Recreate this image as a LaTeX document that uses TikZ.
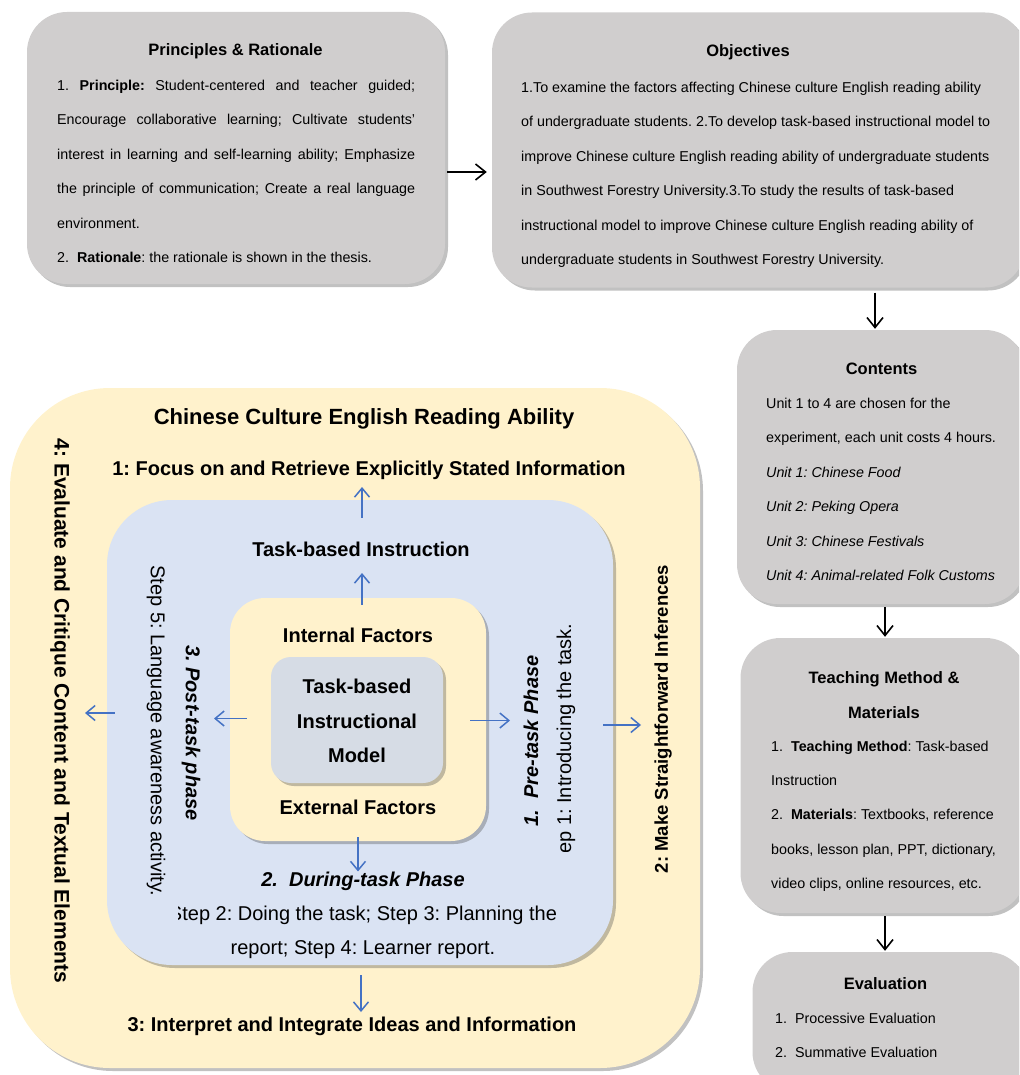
\documentclass[tikz,border=0pt]{standalone}
\usepackage{fontspec}
\setmainfont{Liberation Sans}
\usetikzlibrary{arrows.meta,shadows}
\definecolor{cardgray}{RGB}{208,206,206}
\definecolor{ylw}{RGB}{255,242,204}
\definecolor{blu}{RGB}{218,227,243}
\definecolor{cgray}{RGB}{214,220,229}
\definecolor{arrblue}{RGB}{68,114,196}
\newcommand{\fsz}[2]{\fontsize{#1}{#2}\selectfont}
\frenchspacing
\begin{document}
\frenchspacing
\begin{tikzpicture}[x=1pt,y=-1pt,
  shd/.style={drop shadow={shadow xshift=3pt,shadow yshift=-3pt,opacity=0.35,fill=black!70}},
  card/.style={fill=cardgray,rounded corners=40pt,inner sep=0pt,shd},
  panel/.style={inner sep=0pt,shd},
  ttl/.style={font=\bfseries\fsz{16.5}{20},inner sep=0pt},
  body/.style={font=\frenchspacing\fsz{14.3}{34.4},inner sep=0pt,align=left,anchor=north west},
  big/.style={font=\bfseries\fsz{20}{24},inner sep=0pt},
  bigit/.style={font=\bfseries\itshape\fsz{20}{24},inner sep=0pt},
  reg/.style={font=\frenchspacing\fsz{20}{34},inner sep=0pt},
  blk/.style={draw=black,line width=1.6pt,-{Straight Barb[length=10pt,width=16pt]}},
  bl/.style={draw=arrblue,line width=1.5pt,-{Straight Barb[length=9pt,width=15pt]}},
]
\useasboundingbox (0,0) rectangle (1019,1075);
\clip (0,0) rectangle (1019,1075);

% gray cards
\node[card,minimum width=418pt,minimum height=272pt] (prin) at (236,148) {};
\node[card,minimum width=533pt,minimum height=275pt] (obj) at (758.5,150) {};
\node[card,minimum width=288pt,minimum height=274pt] (cont) at (881,467) {};
\node[card,minimum width=285pt,minimum height=275pt] (teach) at (883,775.5) {};
\node[card,minimum width=275pt,minimum height=140pt] (eval) at (890,1022) {};

% nested panels
\node[panel,fill=ylw,rounded corners=100pt,minimum width=690pt,minimum height=680pt] (outer) at (355,728) {};
\node[panel,fill=blu,rounded corners=65pt,minimum width=506pt,minimum height=465pt] (blue) at (360,732.5) {};
\node[panel,fill=ylw,rounded corners=35pt,minimum width=256pt,minimum height=243pt] (inner) at (358,719.5) {};
\node[panel,fill=cgray,rounded corners=20pt,minimum width=172pt,minimum height=126pt] (core) at (357,720) {};

% card texts
\node[ttl] (prinT) at (235.5,51.5) {Principles \& Rationale};
\node[body,text width=358pt,align=justify] (prinB) at (57,80) {1. \textbf{Principle:} Student-centered and teacher guided;\linebreak Encourage collaborative learning; Cultivate students'\linebreak interest in learning and self-learning ability; Emphasize\linebreak the principle of communication; Create a real language\linebreak environment.\\2.\ \ \textbf{Rationale}: the rationale is shown in the thesis.};

\node[ttl] (objT) at (748,52.5) {Objectives};
\node[body] (objB) at (521,82) {1.To examine the factors affecting Chinese culture English reading ability\\of undergraduate students. 2.To develop task-based instructional model to\\improve Chinese culture English reading ability of undergraduate students\\in Southwest Forestry University.3.To study the results of task-based\\instructional model to improve Chinese culture English reading ability of\\undergraduate students in Southwest Forestry University.};

\node[ttl] (contT) at (881.5,368.5) {Contents};
\node[body] (contB) at (766,398) {Unit 1 to 4 are chosen for the\\experiment, each unit costs 4 hours.\\\textit{Unit 1: Chinese Food}\\\textit{Unit 2: Peking Opera}\\\textit{Unit 3: Chinese Festivals}\\\textit{Unit 4: Animal-related Folk Customs}};

\node[inner sep=0pt,align=center,font=\bfseries\fsz{16.5}{35}] (teachT) at (884,695) {Teaching Method \&\\Materials};
\node[body] (teachB) at (771,740.6) {1.\ \ \textbf{Teaching Method}: Task-based\\Instruction\\2.\ \ \textbf{Materials}: Textbooks, reference\\books, lesson plan, PPT, dictionary,\\video clips, online resources, etc.};

\node[ttl] (evalT) at (885.5,984) {Evaluation};
\node[body] (evalB) at (775,1012.6) {1.\ \ Processive Evaluation\\2.\ \ Summative Evaluation};

% model texts
\node[inner sep=0pt,font=\bfseries\fsz{22}{26}] (cera) at (364,419) {Chinese Culture English Reading Ability};
\node[big] (focus) at (369,470) {1: Focus on and Retrieve Explicitly Stated Information};
\node[big] (interp) at (352,1026) {3: Interpret and Integrate Ideas and Information};
\node[big,font=\bfseries\fsz{21}{24},rotate=-90] (crit) at (60,711) {4: Evaluate and Critique Content and Textual Elements};
\node[big,font=\bfseries\fsz{18.5}{24},rotate=90] (infer) at (663,719) {2: Make Straightforward Inferences};
\node[big] (tbi) at (361,549) {Task-based Instruction};
\node[big] (intf) at (358,635) {Internal Factors};
\node[big] (extf) at (358,807) {External Factors};
\node[inner sep=0pt,align=center,font=\bfseries\fsz{20}{34.5}] (model) at (357,721) {Task-based\\Instructional\\Model};
\node[bigit] (during) at (363,881) {2.\ \ During-task Phase};
\begin{scope}
  \clip (178,890) rectangle (620,970);
  \node[reg,align=center] (duringS) at (363,932) {Step 2: Doing the task; Step 3: Planning the\\report; Step 4: Learner report.};
\end{scope}
\node[bigit,rotate=-90] (post) at (191,733) {3. Post-task phase};
\node[reg,rotate=-90] (step5) at (156,731) {Step 5: Language awareness activity.};
\node[bigit,rotate=90] (pre) at (531,741) {1.\ \ Pre-task Phase};
\begin{scope}
  \clip (540,590) rectangle (600,851);
  \node[reg,rotate=90] (step1) at (566,748) {Step 1: Introducing the task.};
\end{scope}

% black connectors
\draw[blk] ([shift={(2,24)}]prin.east) -- ([shift={(-5,22)}]obj.west);
\draw[blk] ([shift={(116.5,5)}]obj.south) -- ([shift={(-6,-1)}]cont.north);
\draw[blk] ([shift={(4,3)}]cont.south) -- ([shift={(2,-1)}]teach.north);
\draw[blk] ([shift={(2,3)}]teach.south) -- ([shift={(-5,-1)}]eval.north);

% blue connectors
\draw[bl] ([shift={(2,18)}]blue.north) -- ([shift={(-7,17)}]focus.center);
\draw[bl] ([shift={(4,7)}]inner.north) -- ([shift={(1,24)}]tbi.center);
\draw[bl] ([shift={(17,-1)}]inner.west) -- ([shift={(23,-14.5)}]post.center);
\draw[bl] ([shift={(-16,1)}]inner.east) -- ([shift={(-21,-20.5)}]pre.center);
\draw[bl] ([shift={(0,-4)}]inner.south) -- (inner.south |- during.north);
\draw[bl] ([shift={(8,-19.5)}]blue.west) -- ([shift={(25,2)}]crit.center);
\draw[bl] ([shift={(-10,-7.5)}]blue.east) -- ([shift={(-22,6)}]infer.center);
\draw[bl] ([shift={(1,10)}]blue.south) -- ([shift={(9,-14)}]interp.center);
\end{tikzpicture}
\end{document}
